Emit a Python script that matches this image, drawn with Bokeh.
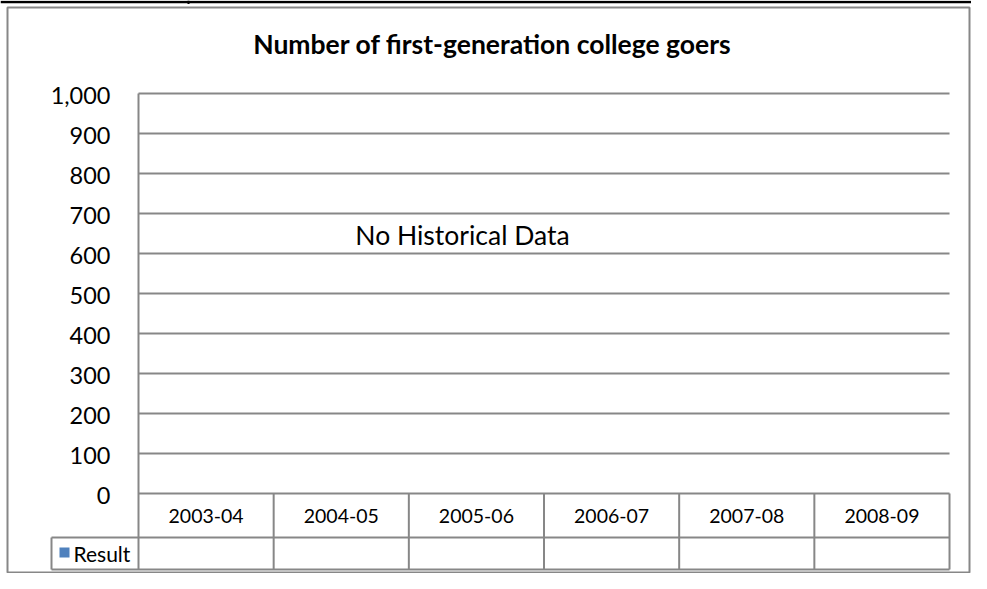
from bokeh.plotting import figure
from bokeh.models import Range1d, ColumnDataSource
from bokeh.core.properties import value
from bokeh.embed import file_html
from bokeh.resources import INLINE

# ---- data ----
title_text = "Number of first-generation college goers"
categories = ["2003-04", "2004-05", "2005-06", "2006-07", "2007-08", "2008-09"]
y_ticks = [0, 100, 200, 300, 400, 500, 600, 700, 800, 900, 1000]
tick_labels = ["0", "100", "200", "300", "400", "500", "600", "700", "800", "900", "1,000"]
series_name = "Result"
series_color = "#4F81BD"
result_values = [None, None, None, None, None, None]   # no historical data
empty_message = "No Historical Data"

# ---- geometry (pixels -> data) ----
W, H = 971, 573
X0_PX, COL_PX = 138.0, 135.17         # left of plot area, width per category
Y0_PX, UNIT_PX = 493.0, 0.4           # pixel row of value 0, px per unit

def xd(px):
    return (px - X0_PX) / COL_PX

def yd(py):
    return (Y0_PX - py) / UNIT_PX

p = figure(width=W, height=H, output_backend="svg", toolbar_location=None,
           x_range=Range1d(xd(0), xd(W)), y_range=Range1d(yd(H), yd(0)),
           x_axis_type=None, y_axis_type=None, min_border=0,
           outline_line_color=None, background_fill_color="white",
           border_fill_color="white")
p.grid.visible = False

GRID = "#878787"
LW = 2
n = len(categories)
ymax = max(y_ticks)

# document table rule above the chart
p.segment(x0=[xd(0)], x1=[xd(W)], y0=[yd(1.5)], y1=[yd(1.5)],
          line_color="black", line_width=2.5)
p.segment(x0=[xd(188)], x1=[xd(188)], y0=[yd(0)], y1=[yd(3.5)],
          line_color="black", line_width=2)

# outer chart border
p.quad(left=[xd(7)], right=[xd(W - 2)], top=[yd(7)], bottom=[yd(H - 1)],
       fill_color=None, line_color=GRID, line_width=LW)

# horizontal gridlines
gt = [t for t in y_ticks if t > 0]
p.segment(x0=[0] * len(gt), x1=[n] * len(gt), y0=gt, y1=gt,
          line_color=GRID, line_width=LW)

# data table geometry
row1_bot = yd(537)
row2_bot = yd(569)
leg_left = xd(51)

# vertical axis line + table column lines
p.segment(x0=[0], x1=[0], y0=[ymax], y1=[row2_bot], line_color=GRID, line_width=LW)
cols = list(range(1, n + 1))
p.segment(x0=cols, x1=cols, y0=[0] * n, y1=[row2_bot] * n, line_color=GRID, line_width=LW)
p.segment(x0=[leg_left], x1=[leg_left], y0=[row1_bot], y1=[row2_bot],
          line_color=GRID, line_width=LW)
# table horizontal lines
p.segment(x0=[0, leg_left, leg_left], x1=[n, n, n], y0=[0, row1_bot, row2_bot],
          y1=[0, row1_bot, row2_bot], line_color=GRID, line_width=LW)

# y tick labels
p.text(x=[xd(110)] * len(y_ticks), y=y_ticks, text=tick_labels,
       text_font=value("Lato"), text_font_size="23.5px", text_color="black",
       text_align="right", text_baseline="middle", y_offset=2)

# category labels
src = ColumnDataSource(dict(x=[i + 0.5 for i in range(n)],
                            y=[(0 + row1_bot) / 2] * n, t=categories))
p.text(x="x", y="y", text="t", source=src, text_font=value("Lato"),
       text_font_size="19.5px", text_color="black", text_align="center",
       text_baseline="middle")

# legend key in table
p.scatter(x=[xd(64)], y=[yd(552)], marker="square", size=10,
          fill_color=series_color, line_color=None)
p.text(x=[xd(73)], y=[yd(553)], text=[series_name], text_font=value("Lato"),
       text_font_size="21px", text_color="black", text_align="left",
       text_baseline="middle")

# no-data message
p.text(x=[xd(462)], y=[yd(234)], text=[empty_message], text_font=value("Lato"),
       text_font_size="26.5px", text_color="black", text_align="center",
       text_baseline="middle")

# title
p.text(x=[xd(492)], y=[yd(43)], text=[title_text], text_font=value("Lato"),
       text_font_size="26.5px", text_font_style="bold", text_color="black",
       text_align="center", text_baseline="middle")

open("out.html", "w").write(file_html(p, INLINE))
